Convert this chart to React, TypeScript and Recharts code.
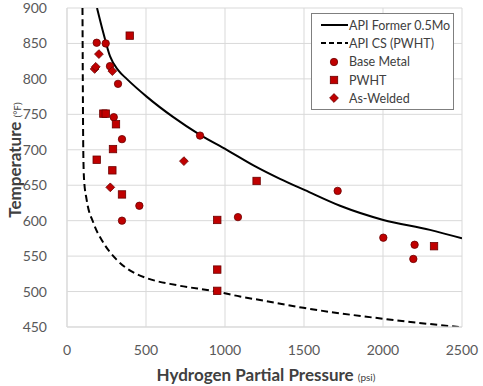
import { ComposedChart, Line, Scatter, XAxis, YAxis, CartesianGrid } from "recharts";

// API curves (pressure psi, temperature F)
const apiFormer = [
    { x: 190, y: 900 }, { x: 231, y: 864 }, { x: 272, y: 832 }, { x: 325, y: 812 },
    { x: 378, y: 800 }, { x: 504, y: 775 }, { x: 673, y: 746 }, { x: 842, y: 721 },
    { x: 1011, y: 700 }, { x: 1180, y: 678 }, { x: 1348, y: 659 }, { x: 1506, y: 643 },
    { x: 1728, y: 621 }, { x: 2002, y: 601 }, { x: 2297, y: 587 }, { x: 2500, y: 575 },
];

const apiCS = [
    { x: 98, y: 900 }, { x: 100, y: 800 }, { x: 103, y: 700 }, { x: 108, y: 658 },
    { x: 124, y: 630 }, { x: 167, y: 597 }, { x: 230, y: 569 }, { x: 314, y: 545 },
    { x: 420, y: 527 }, { x: 504, y: 519 }, { x: 694, y: 509 }, { x: 947, y: 500 },
    { x: 1095, y: 493 }, { x: 1222, y: 488 }, { x: 1496, y: 477 }, { x: 2023, y: 461 },
    { x: 2480, y: 450 },
];

const baseMetal = [
    { x: 188, y: 851 }, { x: 245, y: 850 }, { x: 272, y: 818 }, { x: 323, y: 793 },
    { x: 296, y: 746 }, { x: 842, y: 720 }, { x: 348, y: 715 }, { x: 458, y: 621 },
    { x: 348, y: 600 }, { x: 1082, y: 605 }, { x: 1713, y: 642 }, { x: 2002, y: 576 },
    { x: 2200, y: 566 }, { x: 2192, y: 546 },
];

const pwht = [
    { x: 397, y: 861 }, { x: 230, y: 751 }, { x: 245, y: 751 }, { x: 310, y: 736 },
    { x: 291, y: 701 }, { x: 188, y: 686 }, { x: 287, y: 671 }, { x: 348, y: 637 },
    { x: 951, y: 601 }, { x: 1200, y: 656 }, { x: 951, y: 531 }, { x: 951, y: 501 },
    { x: 2323, y: 564 },
];

const asWelded = [
    { x: 202, y: 835 }, { x: 287, y: 811 }, { x: 175, y: 814 }, { x: 182, y: 817 },
    { x: 740, y: 684 }, { x: 274, y: 647 },
];

const xTicks = [0, 500, 1000, 1500, 2000, 2500];
const yTicks = [450, 500, 550, 600, 650, 700, 750, 800, 850, 900];

const RED = "#C00000";
const EDGE = "#6b0000";
const FONT = "Lato, 'Noto Sans', sans-serif";

const CircleDot = ({ cx, cy }: any) => (
    <circle cx={cx} cy={cy} r={3.7} fill={RED} stroke={EDGE} strokeWidth={0.8} />
);
const SquareDot = ({ cx, cy }: any) => (
    <rect x={cx - 3.7} y={cy - 3.7} width={7.4} height={7.4} fill={RED} stroke={EDGE} strokeWidth={0.8} />
);
const DiamondDot = ({ cx, cy }: any) => (
    <path d={`M${cx},${cy - 4.4}L${cx + 4.4},${cy}L${cx},${cy + 4.4}L${cx - 4.4},${cy}Z`} fill={RED} stroke={EDGE} strokeWidth={0.8} />
);

// legend box drawn by hand to match the original
const LegendBox = () => {
    const rows = [
        { label: "API Former 0.5Mo", kind: "solid" },
        { label: "API CS (PWHT)", kind: "dash" },
        { label: "Base Metal", kind: "circle" },
        { label: "PWHT", kind: "square" },
        { label: "As-Welded", kind: "diamond" },
    ];
    return (
        <div style={{
            position: "absolute",
            top: 13,
            left: 311,
            border: "1px solid #7f7f7f",
            background: "#fff",
            padding: "2px 0 2px 0",
            width: 141,
            fontFamily: FONT,
            fontSize: 12.5,
            color: "#404040",
        }}>
            {rows.map((r) => (
                <div key={r.label} style={{ display: "flex", alignItems: "center", height: 18.3 }}>
                    <svg width={36} height={12} style={{ flexShrink: 0 }}>
                        {r.kind === "solid" && <line x1={9} y1={6} x2={36} y2={6} stroke="#000" strokeWidth={2} />}
                        {r.kind === "dash" && <line x1={9} y1={6} x2={36} y2={6} stroke="#000" strokeWidth={2} strokeDasharray="5 3" />}
                        {r.kind === "circle" && <CircleDot cx={22} cy={6} />}
                        {r.kind === "square" && <SquareDot cx={22} cy={6} />}
                        {r.kind === "diamond" && <DiamondDot cx={22} cy={6} />}
                    </svg>
                    <span style={{ marginLeft: 1 }}>{r.label}</span>
                </div>
            ))}
        </div>
    );
};

const YLabel = () => (
    <text transform="translate(21,160) rotate(-90)" textAnchor="middle" fontFamily={FONT} fill="#404040">
        <tspan fontSize={17} fontWeight={700}>Temperature </tspan>
        <tspan fontSize={10}>(°F)</tspan>
    </text>
);

const XLabel = () => (
    <text x={266} y={381} textAnchor="middle" fontFamily={FONT} fill="#404040">
        <tspan fontSize={17} fontWeight={700}>Hydrogen Partial Pressure </tspan>
        <tspan fontSize={10}>(psi)</tspan>
    </text>
);

export default function App() {
    return (
        <div style={{ position: "absolute", left: 0, top: 0, width: 483, height: 386, background: "#fff" }}>
            <ComposedChart width={483} height={386} margin={{ top: 8, right: 21, left: 0, bottom: 0 }}>
                <CartesianGrid stroke="#d9d9d9" strokeWidth={1} />
                <XAxis
                    type="number"
                    dataKey="x"
                    domain={[0, 2500]}
                    ticks={xTicks}
                    allowDataOverflow
                    height={59}
                    axisLine={{ stroke: "#d9d9d9" }}
                    tickLine={false}
                    tick={{ fill: "#595959", fontSize: 14, fontFamily: FONT }}
                    tickMargin={12}
                    label={<XLabel />}
                />
                <YAxis
                    type="number"
                    dataKey="y"
                    domain={[450, 900]}
                    ticks={yTicks}
                    allowDataOverflow
                    width={67}
                    axisLine={{ stroke: "#d9d9d9" }}
                    tickLine={false}
                    tick={{ fill: "#595959", fontSize: 14, fontFamily: FONT }}
                    tickMargin={14}
                    label={<YLabel />}
                />
                <Line data={apiFormer} dataKey="y" type="monotone" stroke="#000" strokeWidth={2} dot={false} isAnimationActive={false} />
                <Line data={apiCS} dataKey="y" type="monotone" stroke="#000" strokeWidth={2} strokeDasharray="7 4" dot={false} isAnimationActive={false} />
                <Scatter data={baseMetal} dataKey="y" shape={<CircleDot />} isAnimationActive={false} />
                <Scatter data={pwht} dataKey="y" shape={<SquareDot />} isAnimationActive={false} />
                <Scatter data={asWelded} dataKey="y" shape={<DiamondDot />} isAnimationActive={false} />
            </ComposedChart>
            <LegendBox />
        </div>
    );
}
